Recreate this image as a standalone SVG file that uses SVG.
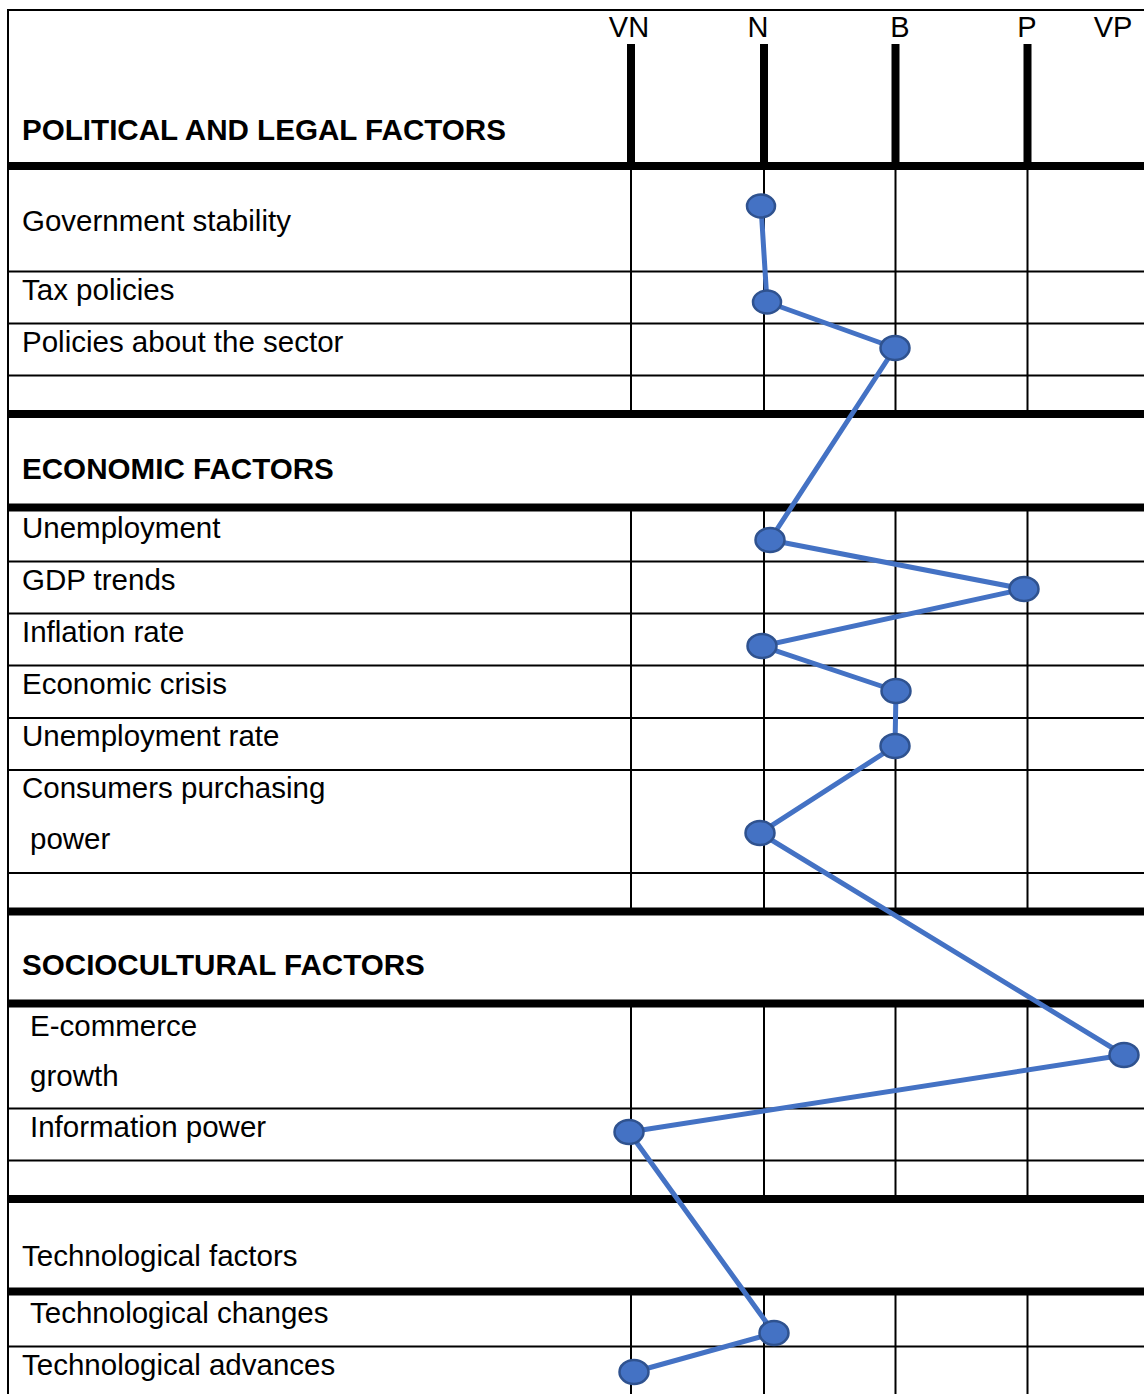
<svg xmlns="http://www.w3.org/2000/svg" width="1144" height="1394" viewBox="0 0 1144 1394">
  <style>
    .txt { font-family: "Liberation Sans", Arial, sans-serif; font-size: 29.5px; fill: #000; }
    .hd { font-weight: bold; font-size: 29.6px; }
    .scale { text-anchor: middle; font-size: 29px; }
    .thin { stroke: #000; stroke-width: 2; fill: none; }
    .thick { stroke: #000; stroke-width: 8; fill: none; }
    .bar { stroke: #000; stroke-width: 8; }
    .trend { stroke: #4472C4; stroke-width: 5; fill: none; stroke-linejoin: round; }
    .pt { fill: #4472C4; stroke: #2F528F; stroke-width: 2.5; }
  </style>

  <rect width="1144" height="1394" fill="#fff"/>

  <!-- table frame -->
  <g id="frame">
    <line class="thin" x1="8" y1="10" x2="1144" y2="10"/>
    <line class="thin" x1="8" y1="9" x2="8" y2="1394"/>
  </g>

  <!-- rating scale header -->
  <g id="scale-header">
    <text class="txt scale" x="629" y="37">VN</text>
    <text class="txt scale" x="758" y="37">N</text>
    <text class="txt scale" x="900" y="37">B</text>
    <text class="txt scale" x="1027" y="37">P</text>
    <text class="txt scale" x="1113" y="37">VP</text>
    <line class="bar" x1="631" y1="44" x2="631" y2="166"/>
    <line class="bar" x1="764" y1="44" x2="764" y2="166"/>
    <line class="bar" x1="895.5" y1="44" x2="895.5" y2="166"/>
    <line class="bar" x1="1027.5" y1="44" x2="1027.5" y2="166"/>
  </g>

  <!-- grid lines -->
  <g id="grid">
    <!-- thick section separators -->
    <line class="thick" x1="8" y1="166" x2="1144" y2="166"/>
    <line class="thick" x1="8" y1="414" x2="1144" y2="414"/>
    <line class="thick" x1="8" y1="507.5" x2="1144" y2="507.5"/>
    <line class="thick" x1="8" y1="911.5" x2="1144" y2="911.5"/>
    <line class="thick" x1="8" y1="1003.5" x2="1144" y2="1003.5"/>
    <line class="thick" x1="8" y1="1199" x2="1144" y2="1199"/>
    <line class="thick" x1="8" y1="1291.5" x2="1144" y2="1291.5"/>
    <!-- thin row separators -->
    <line class="thin" x1="8" y1="271.5" x2="1144" y2="271.5"/>
    <line class="thin" x1="8" y1="323.5" x2="1144" y2="323.5"/>
    <line class="thin" x1="8" y1="375.5" x2="1144" y2="375.5"/>
    <line class="thin" x1="8" y1="561.5" x2="1144" y2="561.5"/>
    <line class="thin" x1="8" y1="613.5" x2="1144" y2="613.5"/>
    <line class="thin" x1="8" y1="665.5" x2="1144" y2="665.5"/>
    <line class="thin" x1="8" y1="718" x2="1144" y2="718"/>
    <line class="thin" x1="8" y1="770" x2="1144" y2="770"/>
    <line class="thin" x1="8" y1="873" x2="1144" y2="873"/>
    <line class="thin" x1="8" y1="1108.5" x2="1144" y2="1108.5"/>
    <line class="thin" x1="8" y1="1160.5" x2="1144" y2="1160.5"/>
    <line class="thin" x1="8" y1="1346.5" x2="1144" y2="1346.5"/>
    <!-- column dividers per section -->
    <path class="thin" d="M631 166V414M764 166V414M895.5 166V414M1027.5 166V414"/>
    <path class="thin" d="M631 507.5V911.5M764 507.5V911.5M895.5 507.5V911.5M1027.5 507.5V911.5"/>
    <path class="thin" d="M631 1003.5V1199M764 1003.5V1199M895.5 1003.5V1199M1027.5 1003.5V1199"/>
    <path class="thin" d="M631 1291.5V1394M764 1291.5V1394M895.5 1291.5V1394M1027.5 1291.5V1394"/>
  </g>

  <!-- factor labels -->
  <g id="labels">
    <text class="txt hd" x="22" y="140">POLITICAL AND LEGAL FACTORS</text>
    <text class="txt" x="22" y="231">Government stability</text>
    <text class="txt" x="22" y="300">Tax policies</text>
    <text class="txt" x="22" y="352">Policies about the sector</text>

    <text class="txt hd" x="22" y="479">ECONOMIC FACTORS</text>
    <text class="txt" x="22" y="538">Unemployment</text>
    <text class="txt" x="22" y="590">GDP trends</text>
    <text class="txt" x="22" y="642">Inflation rate</text>
    <text class="txt" x="22" y="694">Economic crisis</text>
    <text class="txt" x="22" y="746">Unemployment rate</text>
    <text class="txt" x="22" y="798">Consumers purchasing</text>
    <text class="txt" x="30" y="849">power</text>

    <text class="txt hd" x="22" y="975">SOCIOCULTURAL FACTORS</text>
    <text class="txt" x="30" y="1036">E-commerce</text>
    <text class="txt" x="30" y="1086">growth</text>
    <text class="txt" x="30" y="1137">Information power</text>

    <text class="txt" x="22" y="1266">Technological factors</text>
    <text class="txt" x="30" y="1323">Technological changes</text>
    <text class="txt" x="22" y="1375">Technological advances</text>
  </g>

  <!-- rating profile line -->
  <g id="connectors">
    <polyline class="trend" points="761,206 767,302 895,348 770,540 1024,589 762,646 896,691 895,746 760,833 1124,1055 629,1132 774,1333 634,1372"/>
  </g>

  <!-- rating points -->
  <g id="points">
    <ellipse id="p-government-stability" class="pt" cx="761" cy="206" rx="14" ry="11.5"/>
    <ellipse id="p-tax-policies" class="pt" cx="767" cy="302" rx="14" ry="11.5"/>
    <ellipse id="p-sector-policies" class="pt" cx="895" cy="348" rx="14.5" ry="12"/>
    <ellipse id="p-unemployment" class="pt" cx="770" cy="540" rx="14.5" ry="12"/>
    <ellipse id="p-gdp-trends" class="pt" cx="1024" cy="589" rx="14.5" ry="12"/>
    <ellipse id="p-inflation-rate" class="pt" cx="762" cy="646" rx="14.5" ry="12"/>
    <ellipse id="p-economic-crisis" class="pt" cx="896" cy="691" rx="14.5" ry="12"/>
    <ellipse id="p-unemployment-rate" class="pt" cx="895" cy="746" rx="14.5" ry="12"/>
    <ellipse id="p-purchasing-power" class="pt" cx="760" cy="833" rx="14.5" ry="12"/>
    <ellipse id="p-ecommerce-growth" class="pt" cx="1124" cy="1055" rx="14.5" ry="12"/>
    <ellipse id="p-information-power" class="pt" cx="629" cy="1132" rx="14.5" ry="12"/>
    <ellipse id="p-tech-changes" class="pt" cx="774" cy="1333" rx="14.5" ry="12"/>
    <ellipse id="p-tech-advances" class="pt" cx="634" cy="1372" rx="14.5" ry="12"/>
  </g>
</svg>
